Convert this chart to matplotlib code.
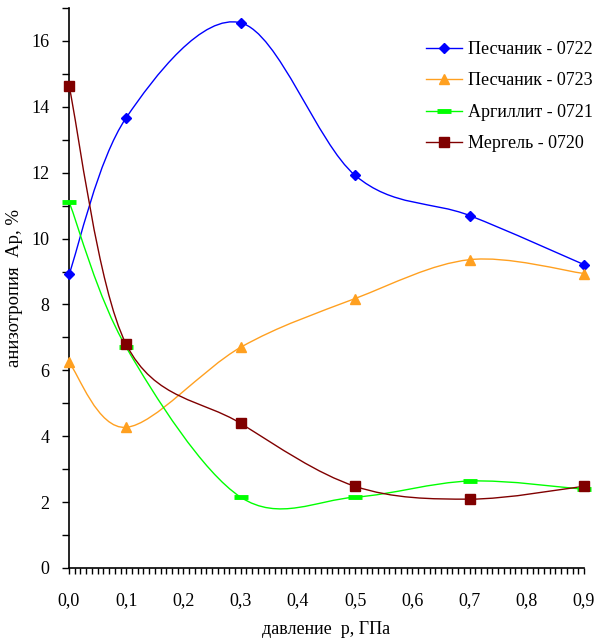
import matplotlib
matplotlib.use("Agg")
import matplotlib.pyplot as plt
from matplotlib.path import Path
from matplotlib.patches import PathPatch
from matplotlib.lines import Line2D
from matplotlib.ticker import MultipleLocator, FuncFormatter

plt.rcParams['font.family'] = ['Liberation Serif', 'DejaVu Serif']

# Данные
davlenie = [0.0, 0.1, 0.3, 0.5, 0.7, 0.9]
pesch_0722 = [8.91, 13.67, 16.55, 11.92, 10.70, 9.21]
pesch_0723 = [6.24, 4.27, 6.70, 8.18, 9.36, 8.94]
argill_0721 = [11.12, 6.70, 2.15, 2.15, 2.64, 2.39]
mergel_0720 = [14.64, 6.79, 4.39, 2.48, 2.09, 2.48]

serii = [
    ("Песчаник - 0722", pesch_0722, "#0000FF", "D", 5.5, 1),
    ("Песчаник - 0723", pesch_0723, "#FFA020", "^", 7, 1),
    ("Аргиллит - 0721", argill_0721, "#00FF00", "_", 10, 3.5),
    ("Мергель - 0720", mergel_0720, "#800000", "s", 6.5, 1),
]


def gladkaya(xs, ys):
    # сглаженная линия как в Excel (кривые Безье)
    verts = [(xs[0], ys[0])]
    codes = [Path.MOVETO]
    n = len(xs)
    for i in range(n - 1):
        x0, y0 = (xs[i - 1], ys[i - 1]) if i > 0 else (xs[i], ys[i])
        x1, y1 = xs[i], ys[i]
        x2, y2 = xs[i + 1], ys[i + 1]
        x3, y3 = (xs[i + 2], ys[i + 2]) if i + 2 < n else (x2, y2)
        c1 = (x1 + (x2 - x0) / 6, y1 + (y2 - y0) / 6)
        c2 = (x2 - (x3 - x1) / 6, y2 - (y3 - y1) / 6)
        verts += [c1, c2, (x2, y2)]
        codes += [Path.CURVE4] * 3
    return Path(verts, codes)


fig = plt.figure(figsize=(5.94, 6.41), dpi=100)
ax = fig.add_axes([69 / 594, 1 - 568 / 641, (584 - 69) / 594, (568 - 8) / 641])

uchastniki = []
for nazv, ys, cvet, mark, ms, mew in serii:
    ax.add_patch(PathPatch(gladkaya(davlenie, ys), facecolor="none",
                           edgecolor=cvet, lw=1.0, zorder=2))
    ax.plot(davlenie, ys, linestyle="none", marker=mark, color=cvet,
            markersize=ms, markeredgewidth=mew, zorder=3, clip_on=False)
    uchastniki.append(Line2D([], [], color=cvet, lw=1.0, marker=mark,
                             markersize=ms, markeredgewidth=mew))

ax.set_xlim(0, 0.9)
ax.set_ylim(0, 17)
for s in ["top", "right"]:
    ax.spines[s].set_visible(False)
ax.spines["left"].set_linewidth(1.2)
ax.spines["bottom"].set_linewidth(1.2)

ax.xaxis.set_major_locator(MultipleLocator(0.1))
ax.xaxis.set_minor_locator(MultipleLocator(0.01))
ax.yaxis.set_major_locator(MultipleLocator(2))
ax.yaxis.set_minor_locator(MultipleLocator(1))
ax.xaxis.set_major_formatter(FuncFormatter(lambda v, p: f"{v:.1f}".replace(".", ",")))
ax.tick_params(axis="x", which="both", direction="out", length=4, width=1, labelsize=13, pad=13)
ax.tick_params(axis="y", which="both", direction="out", length=5, width=1, labelsize=13, pad=9)

ax.set_xlabel("давление  р, ГПа", fontsize=13, labelpad=9)
ax.set_ylabel("анизотропия  Ар, %", fontsize=13.5, labelpad=6)

ax.legend(uchastniki, [s[0] for s in serii], loc="upper right",
          bbox_to_anchor=(1.05, 0.97), frameon=False, fontsize=13,
          handlelength=2.0, labelspacing=0.8, handletextpad=0.35)

fig.savefig("out.png", dpi=100)
